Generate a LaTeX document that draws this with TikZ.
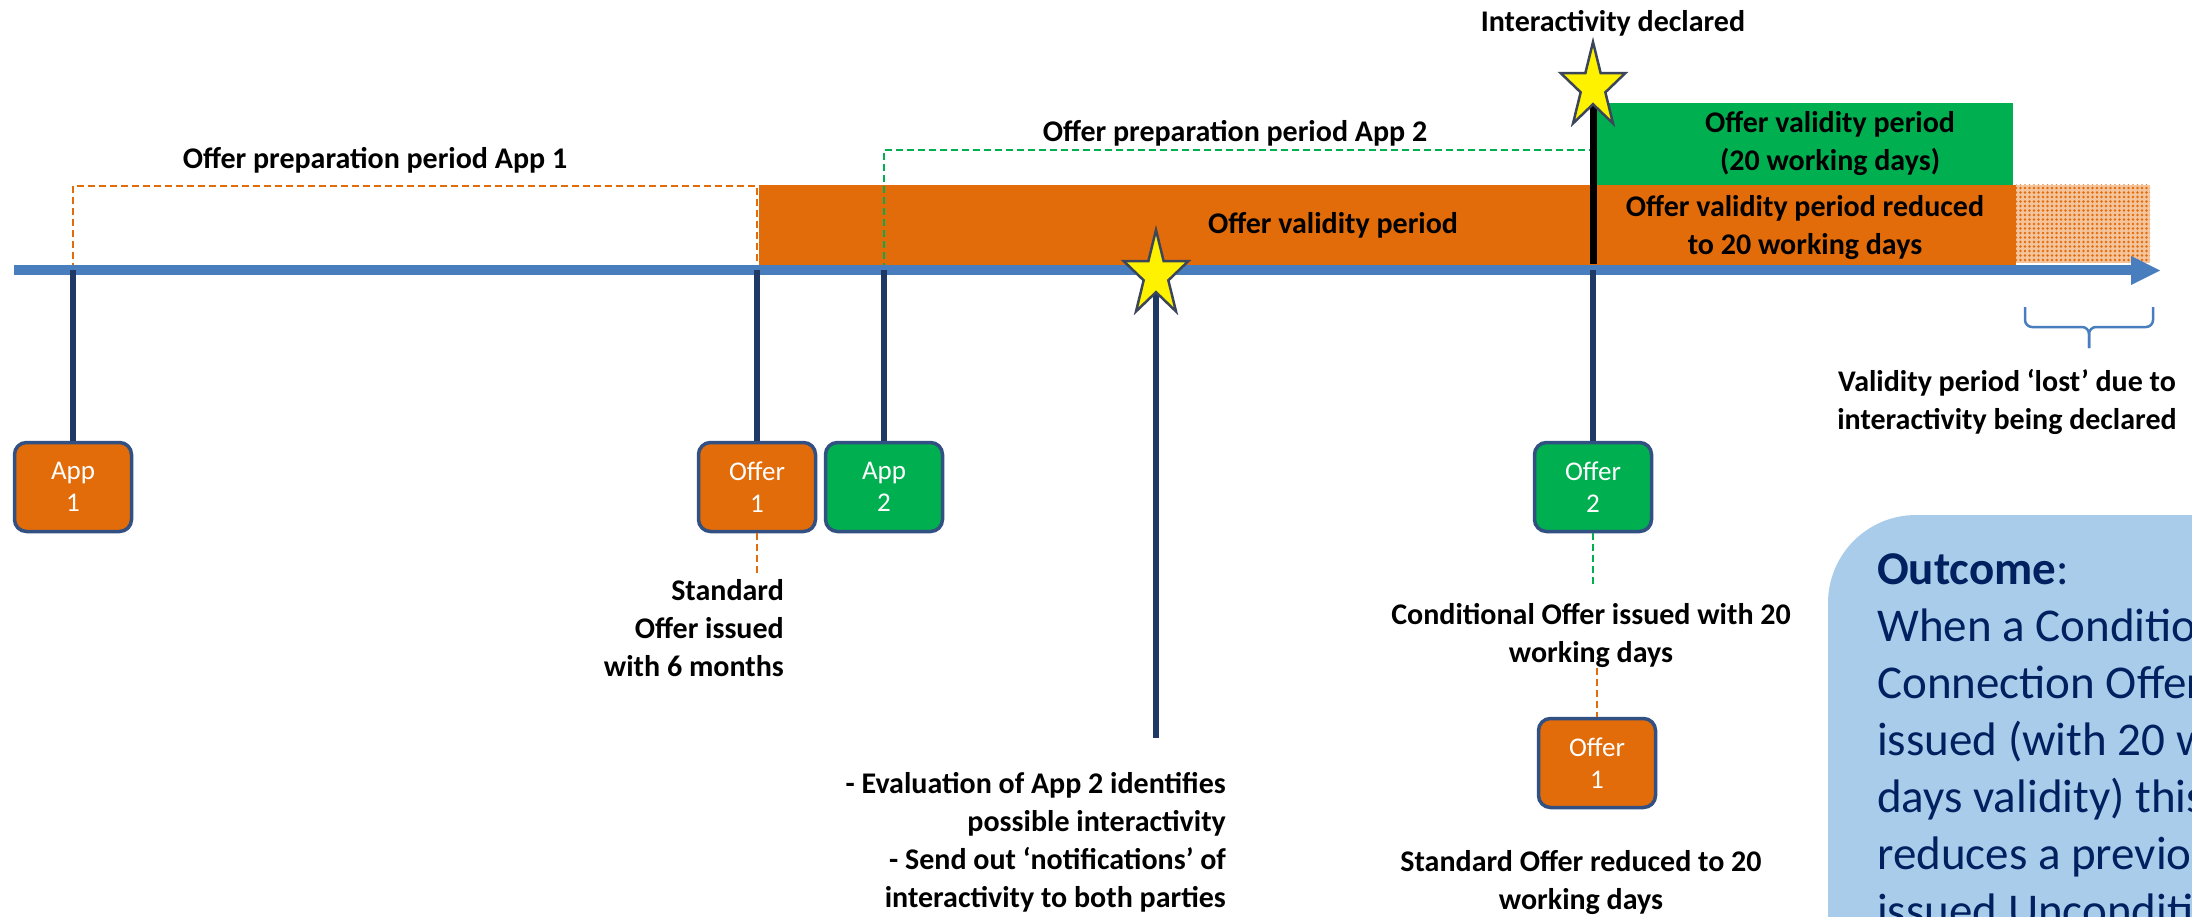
\documentclass[tikz,border=0pt]{standalone}
\usepackage{fontspec}
\setmainfont{Carlito}
\usetikzlibrary{patterns.meta}
\definecolor{tlblue}{RGB}{72,126,190}
\definecolor{navy}{RGB}{31,56,100}
\definecolor{boxborder}{RGB}{50,80,130}
\definecolor{orng}{RGB}{227,108,10}
\definecolor{grn}{RGB}{0,176,80}
\definecolor{outfill}{RGB}{168,204,234}
\definecolor{outtext}{RGB}{0,32,96}
\definecolor{starline}{RGB}{60,70,90}
\newcommand\mystar[3]{%
  \coordinate (#1) at (#2,#3);
  \draw[starstyle] plot[samples at={0,...,9}] ({#2+34*(1-0.618*mod(\x,2))*cos(90+36*\x)},{#3-45*(1-0.618*mod(\x,2))*sin(90+36*\x)}) -- cycle;
}
\begin{document}
\begin{tikzpicture}[x=1pt,y=-1pt,
  lbl/.style={font=\fontsize{30}{38}\selectfont\bfseries, inner sep=0pt, align=center},
  tick/.style={draw=navy, line width=6pt},
  box/.style={draw=boxborder, line width=3.5pt, rounded corners=12pt, minimum width=117pt, minimum height=89pt, inner sep=0pt, text=white, align=center, font=\fontsize{27}{32}\selectfont},
  obox/.style={box, fill=orng},
  gbox/.style={box, fill=grn},
  odash/.style={draw=orng, line width=2pt, dash pattern=on 7pt off 4pt},
  gdash/.style={draw=grn, line width=2pt, dash pattern=on 7pt off 4pt},
  starstyle/.style={fill=yellow, draw=starline, line width=2.5pt, line join=miter},
  bracestyle/.style={draw=tlblue, line width=2.5pt, rounded corners=7pt}]
\useasboundingbox (0,0) rectangle (2192,917);
\clip (0,0) rectangle (2192,917);

% timeline coordinates
\coordinate (tl0) at (14,270);
\coordinate (tl1) at (2133,270);
\coordinate (tA1) at (73,270);
\coordinate (tO1) at (757,270);
\coordinate (tA2) at (884,270);
\coordinate (tO2) at (1593,270);

% period bars
\fill[orng] (759,185) rectangle (2016,265);
\fill[grn] (1597,103) rectangle (2013,185);
\fill[orng!40!white] (2016,185) rectangle (2150,263);
\fill[pattern={Dots[radius=1.3pt,distance=4.5pt]}, pattern color=orng] (2016,185) rectangle (2150,263);

% preparation periods
\coordinate (pA1a) at (73,186);
\coordinate (pA1b) at (757,186);
\coordinate (pA2a) at (884,150);
\coordinate (pA2b) at (1590,150);
\draw[odash] (tA1) -- (pA1a) -- (pA1b) -- (tO1);
\draw[gdash] (tA2) -- (pA2a) -- (pA2b);

% interactivity declared line
\coordinate (s2base) at (1593,264);
\draw[black, line width=7pt] (1593,100) -- (s2base);

% timeline
\draw[tlblue, line width=10pt] (tl0) -- (tl1);
\fill[tlblue] (2131,256) -- (2160,270.5) -- (2131,285) -- cycle;

% boxes
\node[obox] (app1) at (73,487) {App\\1};
\node[obox] (offer1) at (757,487) {Offer\\1};
\node[gbox] (app2) at (884,487) {App\\2};
\node[gbox] (offer2) at (1593,487) {Offer\\2};
\node[obox] (offer1b) at (1597,763) {Offer\\1};

% ticks
\draw[tick] (tA1) -- (app1.north);
\draw[tick] (tO1) -- (offer1.north);
\draw[tick] (tA2) -- (app2.north);
\draw[tick] (tO2) -- (offer2.north);
\coordinate (s1end) at (1156,738);
\draw[tick] (1156,290) -- (s1end);

% stars
\mystar{star1}{1156}{275}
\mystar{star2}{1593}{87}

% lower dashed links
\coordinate (o1d) at (757,575);
\coordinate (o2d) at (1593,585);
\coordinate (o1bu) at (1597,668);
\draw[odash] (offer1.south) -- (o1d);
\draw[gdash] (offer2.south) -- (o2d);
\draw[odash] (o1bu) -- (offer1b.north);

% brace
\draw[bracestyle] (2025,307) -- (2025,327) -- (2089,327) -- (2089,348);
\draw[bracestyle] (2153,307) -- (2153,327) -- (2089,327) -- (2089,348);

% labels
\node[lbl] (lInter) at (1613,23) {Interactivity declared};
\node[lbl] (lPrep1) at (375,160) {Offer preparation period App 1};
\node[lbl] (lPrep2) at (1235,133) {Offer preparation period App 2};
\node[lbl] (lValid) at (1333,225) {Offer validity period};
\node[lbl] (lGreen) at (1830,144) {Offer validity period\\(20 working days)};
\node[lbl] (lRed) at (1805,228) {Offer validity period reduced\\to 20 working days};
\node[lbl] (lLost) at (2007,402) {Validity period ‘lost’ due to\\interactivity being declared};
\node[lbl, align=right, anchor=east] (lStd) at (784,628) {Standard\\Offer issued\\with 6 months};
\node[lbl, align=right, anchor=east] (lEval) at (1226,842) {- Evaluation of App 2 identifies\\possible interactivity\\- Send out ‘notifications’ of\\interactivity to both parties};
\node[lbl] (lCond) at (1591,635) {Conditional Offer issued with 20\\working days};
\node[lbl] (lRedu) at (1581,882) {Standard Offer reduced to 20\\working days};

% outcome box
\fill[outfill, rounded corners=88pt] (1828,515) rectangle (2400,1100);
\node[anchor=north west, inner sep=0pt, align=left, text=outtext, font=\fontsize{47}{57}\selectfont] (outtxt) at (1877,553)
  {\textbf{Outcome}:\\When a Conditional\\Connection Offer is\\issued (with 20 working\\days validity) this\\reduces a previously\\issued Unconditional};
\end{tikzpicture}
\end{document}
